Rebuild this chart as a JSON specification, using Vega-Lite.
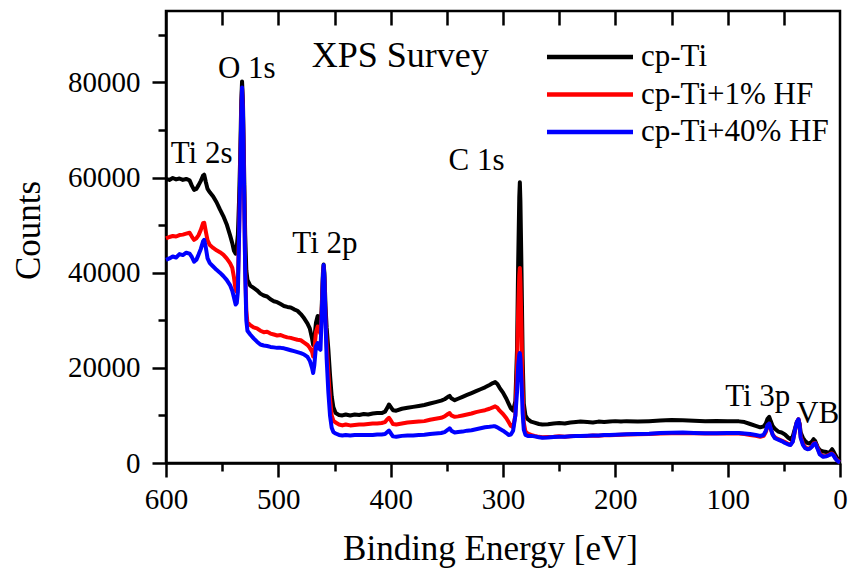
{
  "$schema": "https://vega.github.io/schema/vega-lite/v6.json",
  "width": 674,
  "height": 452,
  "autosize": {"type": "none"},
  "padding": {"left": 166, "top": 11, "right": 8, "bottom": 106},
  "background": "white",
  "config": {
    "font": "Liberation Serif",
    "view": {"stroke": "black", "strokeWidth": 2.5},
    "axis": {"grid": false, "domainColor": "black", "domainWidth": 2.5, "tickColor": "black", "tickWidth": 2.5, "labelColor": "black", "titleColor": "black", "labelFont": "Liberation Serif", "titleFont": "Liberation Serif", "titleFontWeight": "normal"}
  },
  "datasets": {
    "spectra": [
      {"E":600,"cp-Ti":59700,"cp-Ti+1% HF":47200,"cp-Ti+40% HF":42700},
      {"E":597,"cp-Ti":59500,"cp-Ti+1% HF":47500,"cp-Ti+40% HF":43000},
      {"E":594,"cp-Ti":59900,"cp-Ti+1% HF":47700,"cp-Ti+40% HF":43400},
      {"E":591,"cp-Ti":59600,"cp-Ti+1% HF":47600,"cp-Ti+40% HF":43200},
      {"E":588,"cp-Ti":59800,"cp-Ti+1% HF":47900,"cp-Ti+40% HF":43900},
      {"E":585,"cp-Ti":59500,"cp-Ti+1% HF":48000,"cp-Ti+40% HF":43700},
      {"E":582,"cp-Ti":59700,"cp-Ti+1% HF":48200,"cp-Ti+40% HF":44200},
      {"E":579,"cp-Ti":59400,"cp-Ti+1% HF":48400,"cp-Ti+40% HF":44000},
      {"E":577,"cp-Ti":58300,"cp-Ti+1% HF":47600,"cp-Ti+40% HF":43300},
      {"E":575,"cp-Ti":57400,"cp-Ti+1% HF":46900,"cp-Ti+40% HF":42300},
      {"E":573,"cp-Ti":57600,"cp-Ti+1% HF":47200,"cp-Ti+40% HF":42700},
      {"E":571,"cp-Ti":58400,"cp-Ti+1% HF":47900,"cp-Ti+40% HF":43800},
      {"E":569,"cp-Ti":59300,"cp-Ti+1% HF":49000,"cp-Ti+40% HF":45000},
      {"E":567,"cp-Ti":60400,"cp-Ti+1% HF":50400,"cp-Ti+40% HF":46600},
      {"E":566,"cp-Ti":60600,"cp-Ti+1% HF":50500,"cp-Ti+40% HF":46900},
      {"E":564.5,"cp-Ti":59000,"cp-Ti+1% HF":48600,"cp-Ti+40% HF":45200},
      {"E":563,"cp-Ti":57600,"cp-Ti+1% HF":46800,"cp-Ti+40% HF":43000},
      {"E":561,"cp-Ti":56900,"cp-Ti+1% HF":45800,"cp-Ti+40% HF":42000},
      {"E":558,"cp-Ti":56000,"cp-Ti+1% HF":45200,"cp-Ti+40% HF":41300},
      {"E":555,"cp-Ti":54800,"cp-Ti+1% HF":44700,"cp-Ti+40% HF":40600},
      {"E":552,"cp-Ti":53300,"cp-Ti+1% HF":44300,"cp-Ti+40% HF":40000},
      {"E":549,"cp-Ti":51900,"cp-Ti+1% HF":43800,"cp-Ti+40% HF":39300},
      {"E":546,"cp-Ti":50200,"cp-Ti+1% HF":43000,"cp-Ti+40% HF":38500},
      {"E":543,"cp-Ti":47900,"cp-Ti+1% HF":42000,"cp-Ti+40% HF":37400},
      {"E":541,"cp-Ti":46200,"cp-Ti+1% HF":41000,"cp-Ti+40% HF":36200},
      {"E":539.5,"cp-Ti":44600,"cp-Ti+1% HF":39000,"cp-Ti+40% HF":34800},
      {"E":538,"cp-Ti":44000,"cp-Ti+1% HF":36300,"cp-Ti+40% HF":33300},
      {"E":537,"cp-Ti":45500,"cp-Ti+1% HF":36000,"cp-Ti+40% HF":33600},
      {"E":536,"cp-Ti":48000,"cp-Ti+1% HF":38500,"cp-Ti+40% HF":36000},
      {"E":535,"cp-Ti":55000,"cp-Ti+1% HF":48000,"cp-Ti+40% HF":47000},
      {"E":534,"cp-Ti":64000,"cp-Ti+1% HF":60000,"cp-Ti+40% HF":60000},
      {"E":533,"cp-Ti":76000,"cp-Ti+1% HF":72500,"cp-Ti+40% HF":73000},
      {"E":532.3,"cp-Ti":80200,"cp-Ti+1% HF":78600,"cp-Ti+40% HF":78900},
      {"E":531.5,"cp-Ti":76000,"cp-Ti+1% HF":73500,"cp-Ti+40% HF":74000},
      {"E":530.5,"cp-Ti":62000,"cp-Ti+1% HF":58000,"cp-Ti+40% HF":58000},
      {"E":529.5,"cp-Ti":48000,"cp-Ti+1% HF":41000,"cp-Ti+40% HF":40000},
      {"E":528.5,"cp-Ti":40500,"cp-Ti+1% HF":32000,"cp-Ti+40% HF":30000},
      {"E":527.5,"cp-Ti":38500,"cp-Ti+1% HF":29500,"cp-Ti+40% HF":27800},
      {"E":525,"cp-Ti":37300,"cp-Ti+1% HF":29000,"cp-Ti+40% HF":27000},
      {"E":522,"cp-Ti":36800,"cp-Ti+1% HF":28500,"cp-Ti+40% HF":26200},
      {"E":519,"cp-Ti":36300,"cp-Ti+1% HF":28300,"cp-Ti+40% HF":25500},
      {"E":516,"cp-Ti":35600,"cp-Ti+1% HF":27800,"cp-Ti+40% HF":24900},
      {"E":513,"cp-Ti":35200,"cp-Ti+1% HF":27500,"cp-Ti+40% HF":24700},
      {"E":510,"cp-Ti":35000,"cp-Ti+1% HF":27600,"cp-Ti+40% HF":24600},
      {"E":507,"cp-Ti":34400,"cp-Ti+1% HF":27200,"cp-Ti+40% HF":24400},
      {"E":504,"cp-Ti":34000,"cp-Ti+1% HF":27000,"cp-Ti+40% HF":24300},
      {"E":501,"cp-Ti":33800,"cp-Ti+1% HF":26800,"cp-Ti+40% HF":24200},
      {"E":498,"cp-Ti":33400,"cp-Ti+1% HF":26900,"cp-Ti+40% HF":24200},
      {"E":495,"cp-Ti":33000,"cp-Ti+1% HF":26600,"cp-Ti+40% HF":24100},
      {"E":492,"cp-Ti":32800,"cp-Ti+1% HF":26400,"cp-Ti+40% HF":23900},
      {"E":489,"cp-Ti":32700,"cp-Ti+1% HF":26300,"cp-Ti+40% HF":23700},
      {"E":486,"cp-Ti":32300,"cp-Ti+1% HF":26100,"cp-Ti+40% HF":23500},
      {"E":483,"cp-Ti":32000,"cp-Ti+1% HF":25900,"cp-Ti+40% HF":23300},
      {"E":480,"cp-Ti":31300,"cp-Ti+1% HF":25800,"cp-Ti+40% HF":23100},
      {"E":477,"cp-Ti":30400,"cp-Ti+1% HF":25300,"cp-Ti+40% HF":22800},
      {"E":474,"cp-Ti":29300,"cp-Ti+1% HF":24800,"cp-Ti+40% HF":22300},
      {"E":472,"cp-Ti":28300,"cp-Ti+1% HF":24200,"cp-Ti+40% HF":21500},
      {"E":470,"cp-Ti":26200,"cp-Ti+1% HF":23400,"cp-Ti+40% HF":20000},
      {"E":469,"cp-Ti":24800,"cp-Ti+1% HF":22400,"cp-Ti+40% HF":18900},
      {"E":468,"cp-Ti":26000,"cp-Ti+1% HF":23600,"cp-Ti+40% HF":20500},
      {"E":466.5,"cp-Ti":29500,"cp-Ti+1% HF":27500,"cp-Ti+40% HF":24500},
      {"E":465,"cp-Ti":30900,"cp-Ti+1% HF":28700,"cp-Ti+40% HF":25200},
      {"E":463.5,"cp-Ti":29500,"cp-Ti+1% HF":27700,"cp-Ti+40% HF":24000},
      {"E":462.5,"cp-Ti":28500,"cp-Ti+1% HF":27200,"cp-Ti+40% HF":23800},
      {"E":461.5,"cp-Ti":32000,"cp-Ti+1% HF":31000,"cp-Ti+40% HF":30000},
      {"E":460.3,"cp-Ti":40000,"cp-Ti+1% HF":39000,"cp-Ti+40% HF":39000},
      {"E":459.7,"cp-Ti":41700,"cp-Ti+1% HF":41200,"cp-Ti+40% HF":41600},
      {"E":459,"cp-Ti":40000,"cp-Ti+1% HF":38500,"cp-Ti+40% HF":39000},
      {"E":458,"cp-Ti":33000,"cp-Ti+1% HF":30500,"cp-Ti+40% HF":30000},
      {"E":457,"cp-Ti":28500,"cp-Ti+1% HF":25000,"cp-Ti+40% HF":22000},
      {"E":455.5,"cp-Ti":24000,"cp-Ti+1% HF":19000,"cp-Ti+40% HF":15000},
      {"E":454,"cp-Ti":18500,"cp-Ti+1% HF":13500,"cp-Ti+40% HF":10000},
      {"E":452.5,"cp-Ti":14000,"cp-Ti+1% HF":10000,"cp-Ti+40% HF":7400},
      {"E":451,"cp-Ti":11700,"cp-Ti+1% HF":8900,"cp-Ti+40% HF":6500},
      {"E":449,"cp-Ti":10500,"cp-Ti+1% HF":8500,"cp-Ti+40% HF":6200},
      {"E":446,"cp-Ti":10100,"cp-Ti+1% HF":8100,"cp-Ti+40% HF":5900},
      {"E":443,"cp-Ti":10000,"cp-Ti+1% HF":7900,"cp-Ti+40% HF":5800},
      {"E":440,"cp-Ti":10200,"cp-Ti+1% HF":8100,"cp-Ti+40% HF":5900},
      {"E":436,"cp-Ti":10000,"cp-Ti+1% HF":7900,"cp-Ti+40% HF":5800},
      {"E":432,"cp-Ti":10200,"cp-Ti+1% HF":8000,"cp-Ti+40% HF":5900},
      {"E":428,"cp-Ti":10100,"cp-Ti+1% HF":8100,"cp-Ti+40% HF":5900},
      {"E":424,"cp-Ti":10300,"cp-Ti+1% HF":8100,"cp-Ti+40% HF":5900},
      {"E":420,"cp-Ti":10200,"cp-Ti+1% HF":8200,"cp-Ti+40% HF":5900},
      {"E":416,"cp-Ti":10400,"cp-Ti+1% HF":8300,"cp-Ti+40% HF":5900},
      {"E":412,"cp-Ti":10500,"cp-Ti+1% HF":8300,"cp-Ti+40% HF":6000},
      {"E":408,"cp-Ti":10500,"cp-Ti+1% HF":8400,"cp-Ti+40% HF":6000},
      {"E":405,"cp-Ti":10800,"cp-Ti+1% HF":8600,"cp-Ti+40% HF":6100},
      {"E":403,"cp-Ti":11600,"cp-Ti+1% HF":9200,"cp-Ti+40% HF":6500},
      {"E":401.5,"cp-Ti":12300,"cp-Ti+1% HF":9500,"cp-Ti+40% HF":6800},
      {"E":400,"cp-Ti":11800,"cp-Ti+1% HF":9000,"cp-Ti+40% HF":6300},
      {"E":398,"cp-Ti":11100,"cp-Ti+1% HF":8200,"cp-Ti+40% HF":5600},
      {"E":395,"cp-Ti":11000,"cp-Ti+1% HF":8100,"cp-Ti+40% HF":5500},
      {"E":390,"cp-Ti":11400,"cp-Ti+1% HF":8300,"cp-Ti+40% HF":5700},
      {"E":385,"cp-Ti":11600,"cp-Ti+1% HF":8500,"cp-Ti+40% HF":5800},
      {"E":380,"cp-Ti":11800,"cp-Ti+1% HF":8600,"cp-Ti+40% HF":5800},
      {"E":375,"cp-Ti":12000,"cp-Ti+1% HF":8700,"cp-Ti+40% HF":5900},
      {"E":370,"cp-Ti":12200,"cp-Ti+1% HF":8800,"cp-Ti+40% HF":5950},
      {"E":365,"cp-Ti":12500,"cp-Ti+1% HF":9100,"cp-Ti+40% HF":6100},
      {"E":360,"cp-Ti":12800,"cp-Ti+1% HF":9300,"cp-Ti+40% HF":6200},
      {"E":355,"cp-Ti":13100,"cp-Ti+1% HF":9500,"cp-Ti+40% HF":6300},
      {"E":352,"cp-Ti":13400,"cp-Ti+1% HF":9800,"cp-Ti+40% HF":6500},
      {"E":349,"cp-Ti":13900,"cp-Ti+1% HF":10300,"cp-Ti+40% HF":7000},
      {"E":347.5,"cp-Ti":14100,"cp-Ti+1% HF":10500,"cp-Ti+40% HF":7300},
      {"E":346,"cp-Ti":13600,"cp-Ti+1% HF":10000,"cp-Ti+40% HF":6800},
      {"E":343,"cp-Ti":13200,"cp-Ti+1% HF":9700,"cp-Ti+40% HF":6400},
      {"E":340,"cp-Ti":13500,"cp-Ti+1% HF":9800,"cp-Ti+40% HF":6500},
      {"E":336,"cp-Ti":13900,"cp-Ti+1% HF":10000,"cp-Ti+40% HF":6600},
      {"E":332,"cp-Ti":14300,"cp-Ti+1% HF":10200,"cp-Ti+40% HF":6800},
      {"E":328,"cp-Ti":14700,"cp-Ti+1% HF":10400,"cp-Ti+40% HF":6900},
      {"E":324,"cp-Ti":15100,"cp-Ti+1% HF":10700,"cp-Ti+40% HF":7100},
      {"E":320,"cp-Ti":15500,"cp-Ti+1% HF":10900,"cp-Ti+40% HF":7300},
      {"E":316,"cp-Ti":15900,"cp-Ti+1% HF":11100,"cp-Ti+40% HF":7500},
      {"E":312,"cp-Ti":16400,"cp-Ti+1% HF":11400,"cp-Ti+40% HF":7600},
      {"E":309,"cp-Ti":16800,"cp-Ti+1% HF":11700,"cp-Ti+40% HF":7700},
      {"E":307,"cp-Ti":17000,"cp-Ti+1% HF":11900,"cp-Ti+40% HF":7700},
      {"E":305,"cp-Ti":16600,"cp-Ti+1% HF":11600,"cp-Ti+40% HF":7500},
      {"E":303,"cp-Ti":15800,"cp-Ti+1% HF":11000,"cp-Ti+40% HF":7200},
      {"E":300,"cp-Ti":14800,"cp-Ti+1% HF":10300,"cp-Ti+40% HF":6800},
      {"E":297,"cp-Ti":13500,"cp-Ti+1% HF":9400,"cp-Ti+40% HF":6300},
      {"E":295,"cp-Ti":12500,"cp-Ti+1% HF":8600,"cp-Ti+40% HF":5900},
      {"E":293,"cp-Ti":11500,"cp-Ti+1% HF":7800,"cp-Ti+40% HF":6000},
      {"E":291,"cp-Ti":11000,"cp-Ti+1% HF":7500,"cp-Ti+40% HF":6800},
      {"E":289,"cp-Ti":13000,"cp-Ti+1% HF":10000,"cp-Ti+40% HF":10000},
      {"E":287.5,"cp-Ti":24000,"cp-Ti+1% HF":20000,"cp-Ti+40% HF":15000},
      {"E":286.5,"cp-Ti":42000,"cp-Ti+1% HF":32000,"cp-Ti+40% HF":20500},
      {"E":285.5,"cp-Ti":56000,"cp-Ti+1% HF":39500,"cp-Ti+40% HF":22800},
      {"E":285,"cp-Ti":59000,"cp-Ti+1% HF":41000,"cp-Ti+40% HF":23100},
      {"E":284.5,"cp-Ti":55000,"cp-Ti+1% HF":38000,"cp-Ti+40% HF":22000},
      {"E":283.5,"cp-Ti":40000,"cp-Ti+1% HF":28000,"cp-Ti+40% HF":17000},
      {"E":282.5,"cp-Ti":22000,"cp-Ti+1% HF":15000,"cp-Ti+40% HF":10500},
      {"E":281.5,"cp-Ti":12500,"cp-Ti+1% HF":8500,"cp-Ti+40% HF":7000},
      {"E":280,"cp-Ti":10000,"cp-Ti+1% HF":6600,"cp-Ti+40% HF":5900},
      {"E":278,"cp-Ti":9200,"cp-Ti+1% HF":6200,"cp-Ti+40% HF":5700},
      {"E":275,"cp-Ti":8700,"cp-Ti+1% HF":5900,"cp-Ti+40% HF":5700},
      {"E":272,"cp-Ti":8500,"cp-Ti+1% HF":5700,"cp-Ti+40% HF":5600},
      {"E":268,"cp-Ti":8200,"cp-Ti+1% HF":5500,"cp-Ti+40% HF":5400},
      {"E":265,"cp-Ti":8100,"cp-Ti+1% HF":5400,"cp-Ti+40% HF":5300},
      {"E":260,"cp-Ti":8150,"cp-Ti+1% HF":5450,"cp-Ti+40% HF":5350},
      {"E":255,"cp-Ti":8300,"cp-Ti+1% HF":5500,"cp-Ti+40% HF":5450},
      {"E":250,"cp-Ti":8400,"cp-Ti+1% HF":5600,"cp-Ti+40% HF":5500},
      {"E":245,"cp-Ti":8300,"cp-Ti+1% HF":5500,"cp-Ti+40% HF":5500},
      {"E":240,"cp-Ti":8500,"cp-Ti+1% HF":5600,"cp-Ti+40% HF":5600},
      {"E":235,"cp-Ti":8600,"cp-Ti+1% HF":5700,"cp-Ti+40% HF":5650},
      {"E":231,"cp-Ti":8700,"cp-Ti+1% HF":5650,"cp-Ti+40% HF":5700},
      {"E":225,"cp-Ti":8600,"cp-Ti+1% HF":5700,"cp-Ti+40% HF":5750},
      {"E":220,"cp-Ti":8500,"cp-Ti+1% HF":5800,"cp-Ti+40% HF":5800},
      {"E":215,"cp-Ti":8700,"cp-Ti+1% HF":5750,"cp-Ti+40% HF":5800},
      {"E":210,"cp-Ti":8600,"cp-Ti+1% HF":5850,"cp-Ti+40% HF":5900},
      {"E":205,"cp-Ti":8700,"cp-Ti+1% HF":5850,"cp-Ti+40% HF":5900},
      {"E":200,"cp-Ti":8800,"cp-Ti+1% HF":5900,"cp-Ti+40% HF":5950},
      {"E":195,"cp-Ti":8700,"cp-Ti+1% HF":5950,"cp-Ti+40% HF":6000},
      {"E":190,"cp-Ti":8800,"cp-Ti+1% HF":6000,"cp-Ti+40% HF":6050},
      {"E":180,"cp-Ti":8700,"cp-Ti+1% HF":6050,"cp-Ti+40% HF":6100},
      {"E":170,"cp-Ti":8800,"cp-Ti+1% HF":6100,"cp-Ti+40% HF":6150},
      {"E":160,"cp-Ti":8950,"cp-Ti+1% HF":6200,"cp-Ti+40% HF":6300},
      {"E":150,"cp-Ti":9050,"cp-Ti+1% HF":6250,"cp-Ti+40% HF":6350},
      {"E":140,"cp-Ti":9000,"cp-Ti+1% HF":6300,"cp-Ti+40% HF":6400},
      {"E":130,"cp-Ti":8900,"cp-Ti+1% HF":6250,"cp-Ti+40% HF":6300},
      {"E":120,"cp-Ti":8800,"cp-Ti+1% HF":6200,"cp-Ti+40% HF":6250},
      {"E":110,"cp-Ti":8850,"cp-Ti+1% HF":6200,"cp-Ti+40% HF":6250},
      {"E":100,"cp-Ti":8800,"cp-Ti+1% HF":6250,"cp-Ti+40% HF":6300},
      {"E":90,"cp-Ti":8750,"cp-Ti+1% HF":6200,"cp-Ti+40% HF":6300},
      {"E":85,"cp-Ti":8600,"cp-Ti+1% HF":6100,"cp-Ti+40% HF":6200},
      {"E":80,"cp-Ti":8200,"cp-Ti+1% HF":5900,"cp-Ti+40% HF":6100},
      {"E":75,"cp-Ti":7800,"cp-Ti+1% HF":5700,"cp-Ti+40% HF":5900},
      {"E":71,"cp-Ti":7500,"cp-Ti+1% HF":5500,"cp-Ti+40% HF":5700},
      {"E":68,"cp-Ti":7700,"cp-Ti+1% HF":5700,"cp-Ti+40% HF":5900},
      {"E":66,"cp-Ti":8300,"cp-Ti+1% HF":6500,"cp-Ti+40% HF":6800},
      {"E":64.5,"cp-Ti":9300,"cp-Ti+1% HF":7800,"cp-Ti+40% HF":8000},
      {"E":63,"cp-Ti":9700,"cp-Ti+1% HF":8200,"cp-Ti+40% HF":8300},
      {"E":61.5,"cp-Ti":8700,"cp-Ti+1% HF":7000,"cp-Ti+40% HF":7100},
      {"E":60,"cp-Ti":7800,"cp-Ti+1% HF":6000,"cp-Ti+40% HF":6000},
      {"E":58,"cp-Ti":7200,"cp-Ti+1% HF":5400,"cp-Ti+40% HF":5200},
      {"E":55,"cp-Ti":6600,"cp-Ti+1% HF":5000,"cp-Ti+40% HF":4900},
      {"E":52,"cp-Ti":6400,"cp-Ti+1% HF":4700,"cp-Ti+40% HF":4600},
      {"E":49,"cp-Ti":6000,"cp-Ti+1% HF":4400,"cp-Ti+40% HF":4200},
      {"E":46,"cp-Ti":5300,"cp-Ti+1% HF":4000,"cp-Ti+40% HF":3900},
      {"E":44,"cp-Ti":5000,"cp-Ti+1% HF":3900,"cp-Ti+40% HF":3800},
      {"E":42,"cp-Ti":5600,"cp-Ti+1% HF":4600,"cp-Ti+40% HF":4500},
      {"E":40,"cp-Ti":7300,"cp-Ti+1% HF":6800,"cp-Ti+40% HF":7000},
      {"E":38.5,"cp-Ti":8500,"cp-Ti+1% HF":8500,"cp-Ti+40% HF":8600},
      {"E":37,"cp-Ti":9100,"cp-Ti+1% HF":9200,"cp-Ti+40% HF":9200},
      {"E":36,"cp-Ti":8300,"cp-Ti+1% HF":8000,"cp-Ti+40% HF":7900},
      {"E":35,"cp-Ti":6400,"cp-Ti+1% HF":5500,"cp-Ti+40% HF":5300},
      {"E":33,"cp-Ti":5300,"cp-Ti+1% HF":4100,"cp-Ti+40% HF":3800},
      {"E":31,"cp-Ti":4600,"cp-Ti+1% HF":3300,"cp-Ti+40% HF":3100},
      {"E":29,"cp-Ti":4200,"cp-Ti+1% HF":3000,"cp-Ti+40% HF":2900},
      {"E":27,"cp-Ti":4100,"cp-Ti+1% HF":3100,"cp-Ti+40% HF":3000},
      {"E":25,"cp-Ti":4500,"cp-Ti+1% HF":3500,"cp-Ti+40% HF":3400},
      {"E":23.5,"cp-Ti":5000,"cp-Ti+1% HF":4100,"cp-Ti+40% HF":4000},
      {"E":22,"cp-Ti":4600,"cp-Ti+1% HF":4200,"cp-Ti+40% HF":4150},
      {"E":20,"cp-Ti":3400,"cp-Ti+1% HF":3200,"cp-Ti+40% HF":3000},
      {"E":18,"cp-Ti":2700,"cp-Ti+1% HF":2000,"cp-Ti+40% HF":1800},
      {"E":15,"cp-Ti":2400,"cp-Ti+1% HF":1400,"cp-Ti+40% HF":1300},
      {"E":12,"cp-Ti":2300,"cp-Ti+1% HF":1500,"cp-Ti+40% HF":1400},
      {"E":9.5,"cp-Ti":2100,"cp-Ti+1% HF":1800,"cp-Ti+40% HF":1700},
      {"E":8,"cp-Ti":2600,"cp-Ti+1% HF":2000,"cp-Ti+40% HF":1900},
      {"E":7,"cp-Ti":2900,"cp-Ti+1% HF":2000,"cp-Ti+40% HF":1900},
      {"E":5.5,"cp-Ti":2300,"cp-Ti+1% HF":1600,"cp-Ti+40% HF":1500},
      {"E":4,"cp-Ti":1600,"cp-Ti+1% HF":1000,"cp-Ti+40% HF":900},
      {"E":2.5,"cp-Ti":1000,"cp-Ti+1% HF":600,"cp-Ti+40% HF":500},
      {"E":1,"cp-Ti":500,"cp-Ti+1% HF":300,"cp-Ti+40% HF":250},
      {"E":0,"cp-Ti":300,"cp-Ti+1% HF":200,"cp-Ti+40% HF":150}
    ],
    "peaks": [
      {"label": "O 1s", "E": 528.1, "V": 80900},
      {"label": "Ti 2s", "E": 568.3, "V": 63100},
      {"label": "Ti 2p", "E": 458.5, "V": 44100},
      {"label": "C 1s", "E": 323.6, "V": 61600},
      {"label": "Ti 3p", "E": 73.2, "V": 12000},
      {"label": "VB", "E": 19.8, "V": 8350}
    ],
    "heading": [
      {"label": "XPS Survey", "E": 391.4, "V": 83300}
    ]
  },
  "resolve": {"axis": {"x": "independent", "y": "independent"}},
  "layer": [
    {
      "data": {"name": "spectra"},
      "transform": [{"fold": ["cp-Ti", "cp-Ti+1% HF", "cp-Ti+40% HF"], "as": ["sample", "counts"]}],
      "mark": {"type": "line", "strokeWidth": 4, "strokeJoin": "round"},
      "encoding": {
        "x": {"field": "E", "type": "quantitative",
          "scale": {"domain": [0, 600], "reverse": true, "nice": false, "zero": false},
          "axis": {"orient": "bottom", "values": [0, 100, 200, 300, 400, 500, 600], "tickSize": 14, "labelFontSize": 29, "labelPadding": 8, "labelFlush": false, "title": "Binding Energy [eV]", "titleFontSize": 35, "titleX": 324, "titleY": 85, "titleBaseline": "middle"}},
        "y": {"field": "counts", "type": "quantitative",
          "scale": {"domain": [0, 95000], "nice": false},
          "axis": {"orient": "left", "values": [0, 20000, 40000, 60000, 80000], "tickSize": 14, "labelFontSize": 29, "labelPadding": 12, "labelFlush": false, "format": "d", "title": "Counts", "titleFontSize": 35, "titleX": -138, "titleY": 219, "titleBaseline": "middle"}},
        "color": {"field": "sample", "type": "nominal",
          "scale": {"domain": ["cp-Ti", "cp-Ti+1% HF", "cp-Ti+40% HF"], "range": ["#000000", "#ff0000", "#0000ff"]},
          "legend": {"orient": "none", "legendX": 407, "legendY": 29, "title": null, "symbolType": "M-3,0H3", "symbolSize": 822, "symbolStrokeWidth": 4.5, "symbolFillColor": "transparent", "labelFont": "Liberation Serif", "labelFontSize": 31, "labelColor": "black", "labelLimit": 500, "labelOffset": 34, "rowPadding": 5.5, "padding": 0}}
      }
    },
    {
      "data": {"name": "spectra"},
      "mark": {"type": "point", "opacity": 0},
      "encoding": {
        "x": {"field": "E", "type": "quantitative",
          "axis": {"orient": "bottom", "values": [50, 150, 250, 350, 450, 550], "tickSize": 8, "labels": false, "domain": false, "title": null}},
        "y": {"field": "cp-Ti", "type": "quantitative",
          "axis": {"orient": "left", "values": [10000, 30000, 50000, 70000, 90000], "tickSize": 8, "labels": false, "domain": false, "title": null}}
      }
    },
    {
      "data": {"name": "spectra"},
      "mark": {"type": "point", "opacity": 0},
      "encoding": {
        "x": {"field": "E", "type": "quantitative",
          "axis": {"orient": "top", "values": [50, 100, 150, 200, 250, 300, 350, 400, 450, 500, 550], "tickSize": -14, "labels": false, "domain": false, "title": null}}
      }
    },
    {
      "data": {"name": "peaks"},
      "mark": {"type": "text", "fontSize": 31, "font": "Liberation Serif", "align": "center", "baseline": "alphabetic", "color": "black"},
      "encoding": {
        "x": {"field": "E", "type": "quantitative", "axis": null},
        "y": {"field": "V", "type": "quantitative", "axis": null},
        "text": {"field": "label"}
      }
    },
    {
      "data": {"name": "heading"},
      "mark": {"type": "text", "fontSize": 36, "font": "Liberation Serif", "align": "center", "baseline": "alphabetic", "color": "black"},
      "encoding": {
        "x": {"field": "E", "type": "quantitative", "axis": null},
        "y": {"field": "V", "type": "quantitative", "axis": null},
        "text": {"field": "label"}
      }
    }
  ]
}
